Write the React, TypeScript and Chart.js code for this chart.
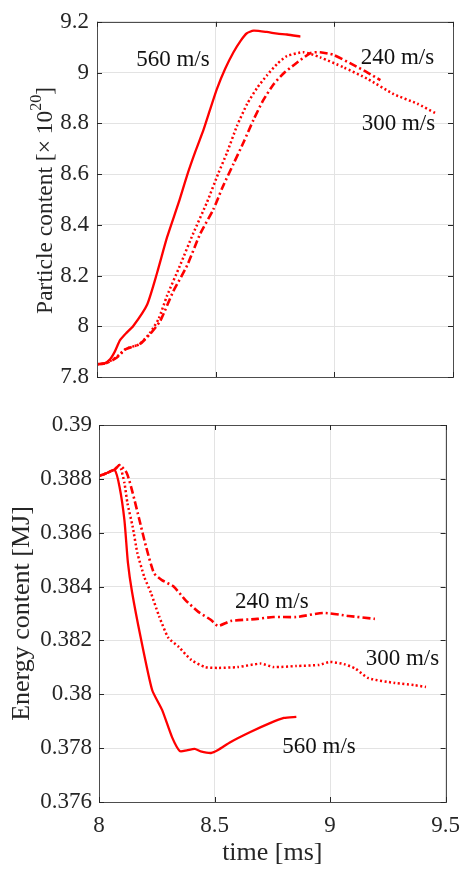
import React, { useEffect, useRef } from 'react';
import { Chart, registerables } from 'chart.js';
Chart.register(...registerables);

// ---------- Data: particle content (x 10^20) ----------
const pTime560 = [8.0, 8.03, 8.055, 8.075, 8.097, 8.125, 8.152, 8.211, 8.253, 8.295, 8.345, 8.38, 8.415, 8.449, 8.475, 8.505, 8.54, 8.575, 8.605, 8.63, 8.66, 8.715, 8.76, 8.8, 8.857];
const pVal560 = [7.85, 7.853, 7.87, 7.9, 7.945, 7.975, 8.0, 8.085, 8.21, 8.35, 8.49, 8.596, 8.69, 8.775, 8.85, 8.935, 9.015, 9.08, 9.125, 9.154, 9.165, 9.16, 9.153, 9.15, 9.142];

const pTime300 = [8.0, 8.04, 8.084, 8.12, 8.18, 8.224, 8.26, 8.295, 8.35, 8.405, 8.464, 8.51, 8.548, 8.59, 8.633, 8.675, 8.717, 8.76, 8.8, 8.87, 8.94, 9.04, 9.14, 9.25, 9.35, 9.426];
const pVal300 = [7.85, 7.855, 7.88, 7.91, 7.93, 7.975, 8.03, 8.12, 8.24, 8.365, 8.49, 8.6, 8.685, 8.79, 8.877, 8.94, 8.99, 9.035, 9.065, 9.08, 9.06, 9.02, 8.975, 8.915, 8.877, 8.84];

const pTime240 = [8.0, 8.04, 8.084, 8.122, 8.18, 8.224, 8.266, 8.32, 8.38, 8.435, 8.49, 8.53, 8.575, 8.62, 8.66, 8.7, 8.745, 8.79, 8.83, 8.9, 8.94, 8.995, 9.08, 9.14, 9.194];
const pVal240 = [7.85, 7.855, 7.877, 7.91, 7.93, 7.97, 8.02, 8.135, 8.24, 8.365, 8.46, 8.55, 8.64, 8.73, 8.815, 8.89, 8.955, 9.0, 9.03, 9.077, 9.08, 9.07, 9.03, 9.0, 8.97];

// ---------- Data: energy content (MJ) ----------
const eTime560 = [8.0, 8.03, 8.068, 8.089, 8.11, 8.125, 8.143, 8.18, 8.23, 8.273, 8.316, 8.35, 8.38, 8.414, 8.44, 8.485, 8.515, 8.57, 8.655, 8.74, 8.8, 8.854];
const eVal560 = [0.38811, 0.3882, 0.38833, 0.3877, 0.38647, 0.3849, 0.3838, 0.38213, 0.38016, 0.37942, 0.37841, 0.37789, 0.37792, 0.37797, 0.37788, 0.37782, 0.37793, 0.37823, 0.3786, 0.37893, 0.37912, 0.37916];

const eTime300 = [8.0, 8.03, 8.068, 8.089, 8.11, 8.123, 8.146, 8.166, 8.196, 8.225, 8.26, 8.3, 8.345, 8.4, 8.46, 8.515, 8.6, 8.7, 8.755, 8.854, 8.953, 9.0, 9.06, 9.11, 9.166, 9.28, 9.364, 9.415];
const eVal300 = [0.38811, 0.3882, 0.38835, 0.38851, 0.38785, 0.3871, 0.38621, 0.38525, 0.38436, 0.38376, 0.3829, 0.3821, 0.38176, 0.38127, 0.38101, 0.38098, 0.38101, 0.38114, 0.38101, 0.38105, 0.38109, 0.3812, 0.38112, 0.38095, 0.3806, 0.38042, 0.38034, 0.38027];

const eTime240 = [8.0, 8.03, 8.068, 8.089, 8.12, 8.146, 8.175, 8.204, 8.238, 8.272, 8.323, 8.374, 8.43, 8.485, 8.515, 8.57, 8.685, 8.755, 8.854, 8.97, 9.08, 9.194];
const eVal240 = [0.38811, 0.3882, 0.38835, 0.38851, 0.38822, 0.38747, 0.38647, 0.38547, 0.3845, 0.38424, 0.384, 0.3835, 0.38306, 0.38276, 0.38254, 0.38272, 0.3828, 0.38287, 0.38287, 0.38302, 0.38291, 0.3828];

// ---------- Annotation labels (data coordinates) ----------
const topLabelText = ['560 m/s', '240 m/s', '300 m/s'];
const topLabelTime = [8.32, 9.266, 9.27];
const topLabelValue = [9.05, 9.058, 8.796];

const botLabelText = ['240 m/s', '300 m/s', '560 m/s'];
const botLabelTime = [8.748, 9.313, 8.952];
const botLabelValue = [0.38343, 0.38131, 0.37804];

// ---------- Axis ranges ----------
const timeMin = 8;
const timeMax = 9.5;
const timeStep = 0.5;
const particleMin = 7.8;
const particleMax = 9.2;
const particleStep = 0.2;
const energyMin = 0.376;
const energyMax = 0.39;
const energyStep = 0.002;

const RED = '#ff0000';
const TEXT = '#262626';
const SERIF = '"Liberation Serif", "Times New Roman", serif';

const pts = (xs: number[], ys: number[]) => xs.map((x, i) => ({ x, y: ys[i] }));

const fmt = (v: number) => String(parseFloat(Number(v).toFixed(4)));

const frameTicksPlugin = {
  id: 'frameTicks',
  afterDraw(chart: any) {
    const { ctx, chartArea: a, scales } = chart;
    ctx.save();
    ctx.strokeStyle = '#4d4d4d';
    ctx.lineWidth = 1;
    ctx.strokeRect(Math.round(a.left) + 0.5, Math.round(a.top) + 0.5, Math.round(a.right - a.left), Math.round(a.bottom - a.top));
    ctx.strokeStyle = TEXT;
    const tl = 5;
    scales.x.ticks.forEach((t: any) => {
      const px = Math.round(scales.x.getPixelForValue(t.value)) + 0.5;
      ctx.beginPath();
      ctx.moveTo(px, a.bottom); ctx.lineTo(px, a.bottom - tl);
      ctx.moveTo(px, a.top); ctx.lineTo(px, a.top + tl);
      ctx.stroke();
    });
    scales.y.ticks.forEach((t: any) => {
      const py = Math.round(scales.y.getPixelForValue(t.value)) + 0.5;
      ctx.beginPath();
      ctx.moveTo(a.left, py); ctx.lineTo(a.left + tl, py);
      ctx.moveTo(a.right, py); ctx.lineTo(a.right - tl, py);
      ctx.stroke();
    });
    ctx.restore();
  },
};

const makeLabelPlugin = (texts: string[], xs: number[], ys: number[]) => ({
  id: 'curveLabels',
  afterDatasetsDraw(chart: any) {
    const { ctx, scales } = chart;
    ctx.save();
    ctx.font = `23px ${SERIF}`;
    ctx.fillStyle = '#111111';
    ctx.textAlign = 'center';
    ctx.textBaseline = 'middle';
    texts.forEach((t, i) => {
      ctx.fillText(t, scales.x.getPixelForValue(xs[i]), scales.y.getPixelForValue(ys[i]));
    });
    ctx.restore();
  },
});

const topTitlePlugin = {
  id: 'topYTitle',
  afterDraw(chart: any) {
    const { ctx, chartArea: a } = chart;
    const cy = (a.top + a.bottom) / 2 + 1;
    ctx.save();
    ctx.translate(46, cy);
    ctx.rotate(-Math.PI / 2);
    ctx.fillStyle = TEXT;
    ctx.textBaseline = 'middle';
    ctx.textAlign = 'left';
    const main = 'Particle content [\u00d7 10';
    const sup = '20';
    const end = ']';
    const fMain = `23.5px ${SERIF}`;
    const fSup = `16px ${SERIF}`;
    ctx.font = fMain;
    const wMain = ctx.measureText(main).width;
    const wEnd = ctx.measureText(end).width;
    ctx.font = fSup;
    const wSup = ctx.measureText(sup).width;
    const total = wMain + wSup + wEnd;
    let x = -total / 2;
    ctx.font = fMain;
    ctx.fillText(main, x, 0);
    x += wMain;
    ctx.font = fSup;
    ctx.fillText(sup, x, -9);
    x += wSup;
    ctx.font = fMain;
    ctx.fillText(end, x, 0);
    ctx.restore();
  },
};

const lineDs = (label: string, data: any[], dash: number[], width: number) => ({
  label,
  data,
  borderColor: RED,
  backgroundColor: RED,
  borderWidth: width,
  borderDash: dash,
  pointRadius: 0,
  tension: 0.2,
  fill: false,
});

const DASH_DOT = [8, 3, 2, 3];
const DOT = [2, 2.5];

function TopChart() {
  const ref = useRef<HTMLCanvasElement>(null);
  useEffect(() => {
    const chart = new Chart(ref.current as HTMLCanvasElement, {
      type: 'line',
      data: {
        datasets: [
          lineDs('560 m/s', pts(pTime560, pVal560), [], 2.3),
          lineDs('300 m/s', pts(pTime300, pVal300), DOT, 2.5),
          lineDs('240 m/s', pts(pTime240, pVal240), DASH_DOT, 2.6),
        ],
      },
      options: {
        animation: false,
        responsive: false,
        devicePixelRatio: 1,
        layout: { padding: { left: 0, right: 17, top: 13, bottom: 0 } },
        plugins: { legend: { display: false }, tooltip: { enabled: false } },
        scales: {
          x: {
            type: 'linear',
            min: timeMin,
            max: timeMax,
            ticks: { stepSize: timeStep, display: false },
            grid: { color: '#e3e3e3', drawTicks: false },
            border: { display: false },
            afterFit: (s: any) => { s.height = 23; },
          },
          y: {
            type: 'linear',
            min: particleMin,
            max: particleMax,
            ticks: {
              stepSize: particleStep,
              padding: 8,
              color: TEXT,
              font: { family: SERIF, size: 23 },
              callback: (v: any) => fmt(v),
            },
            grid: { color: '#e3e3e3', drawTicks: false },
            border: { display: false },
            afterFit: (s: any) => { s.width = 97; },
          },
        },
      },
      plugins: [frameTicksPlugin, topTitlePlugin, makeLabelPlugin(topLabelText, topLabelTime, topLabelValue)],
    } as any);
    return () => chart.destroy();
  }, []);
  return <canvas ref={ref} width={470} height={400} style={{ display: 'block' }} />;
}

function BottomChart() {
  const ref = useRef<HTMLCanvasElement>(null);
  useEffect(() => {
    const chart = new Chart(ref.current as HTMLCanvasElement, {
      type: 'line',
      data: {
        datasets: [
          lineDs('560 m/s', pts(eTime560, eVal560), [], 2.3),
          lineDs('300 m/s', pts(eTime300, eVal300), DOT, 2.5),
          lineDs('240 m/s', pts(eTime240, eVal240), DASH_DOT, 2.6),
        ],
      },
      options: {
        animation: false,
        responsive: false,
        devicePixelRatio: 1,
        layout: { padding: { left: 0, right: 18, top: 25, bottom: 0 } },
        plugins: { legend: { display: false }, tooltip: { enabled: false } },
        scales: {
          x: {
            type: 'linear',
            min: timeMin,
            max: timeMax,
            ticks: {
              stepSize: timeStep,
              padding: 10,
              color: TEXT,
              maxRotation: 0,
              font: { family: SERIF, size: 23 },
              callback: (v: any) => fmt(v),
            },
            title: {
              display: true,
              text: 'time [ms]',
              color: TEXT,
              font: { family: SERIF, size: 26 },
              padding: { top: 0, bottom: 3 },
            },
            grid: { color: '#e3e3e3', drawTicks: false },
            border: { display: false },
            afterFit: (s: any) => { s.height = 70; },
          },
          y: {
            type: 'linear',
            min: energyMin,
            max: energyMax,
            ticks: {
              stepSize: energyStep,
              padding: 7,
              color: TEXT,
              font: { family: SERIF, size: 23 },
              callback: (v: any) => fmt(v),
            },
            title: {
              display: true,
              text: 'Energy content [MJ]',
              color: TEXT,
              font: { family: SERIF, size: 26 },
              padding: { top: 7, bottom: 0 },
            },
            grid: { color: '#e3e3e3', drawTicks: false },
            border: { display: false },
            afterFit: (s: any) => { s.width = 99; },
          },
        },
      },
      plugins: [frameTicksPlugin, makeLabelPlugin(botLabelText, botLabelTime, botLabelValue)],
    } as any);
    return () => chart.destroy();
  }, []);
  return <canvas ref={ref} width={470} height={472} style={{ display: 'block' }} />;
}

export default function App() {
  return (
    <div style={{ position: 'absolute', left: 0, top: 0, width: 470, height: 872, background: '#ffffff' }}>
      <div style={{ position: 'absolute', left: 0, top: 0 }}>
        <TopChart />
      </div>
      <div style={{ position: 'absolute', left: 0, top: 400 }}>
        <BottomChart />
      </div>
    </div>
  );
}
